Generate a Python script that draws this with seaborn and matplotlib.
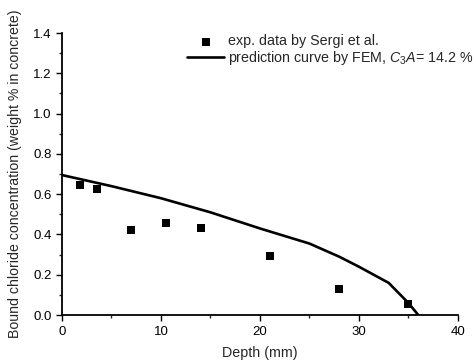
import matplotlib
matplotlib.use("Agg")
import matplotlib.pyplot as plt
import seaborn as sns
from matplotlib.ticker import MultipleLocator

# experimental data
exp_depth = [1.8, 3.5, 7.0, 10.5, 14.0, 21.0, 28.0, 35.0]
exp_conc = [0.645, 0.625, 0.42, 0.455, 0.43, 0.295, 0.13, 0.055]

# FEM prediction curve
fem_depth = [0, 5, 10, 15, 20, 25, 28, 30, 33, 35, 36]
fem_conc = [0.695, 0.64, 0.58, 0.51, 0.43, 0.355, 0.29, 0.24, 0.16, 0.06, 0.0]

sns.set_style("ticks")
plt.rcParams['font.family'] = ['Liberation Sans', 'DejaVu Sans']
plt.rcParams['mathtext.fontset'] = 'custom'
plt.rcParams['mathtext.it'] = 'Liberation Sans:italic'
plt.rcParams['mathtext.rm'] = 'Liberation Sans'

fig = plt.figure(figsize=(4.77, 3.63), dpi=100)
ax = fig.add_axes([0.13, 0.132, 0.83, 0.777])

sns.scatterplot(x=exp_depth, y=exp_conc, marker='s', color='black', s=30,
                edgecolor='black', linewidth=0, ax=ax, label='exp. data by Sergi et al.', zorder=3)
sns.lineplot(x=fem_depth, y=fem_conc, color='black', linewidth=1.9, ax=ax,
             label='prediction curve by FEM, $C_3A$= 14.2 %')

ax.set_xlim(0, 40)
ax.set_ylim(0, 1.4)
ax.xaxis.set_major_locator(MultipleLocator(10))
ax.xaxis.set_minor_locator(MultipleLocator(5))
ax.yaxis.set_major_locator(MultipleLocator(0.2))
ax.yaxis.set_minor_locator(MultipleLocator(0.1))
ax.yaxis.set_major_formatter(matplotlib.ticker.FormatStrFormatter('%.1f'))
ax.tick_params(which='major', length=4, width=1, labelsize=9.5, colors='black')
ax.tick_params(which='minor', length=2.5, width=1)
sns.despine(ax=ax)
for s in ['left', 'bottom']:
    ax.spines[s].set_linewidth(1.3)
    ax.spines[s].set_color('black')

ax.set_xlabel('Depth (mm)', fontsize=10.3, labelpad=6)
ax.set_ylabel('Bound chloride concentration (weight % in concrete)', fontsize=10.2, labelpad=8)

ax.legend(loc='upper left', bbox_to_anchor=(0.392, 0.905), bbox_transform=fig.transFigure,
          frameon=False, fontsize=10.3, borderpad=0, borderaxespad=0,
          handlelength=2.6, handletextpad=0.3, labelspacing=0.05)

fig.savefig('out.png', dpi=100)
